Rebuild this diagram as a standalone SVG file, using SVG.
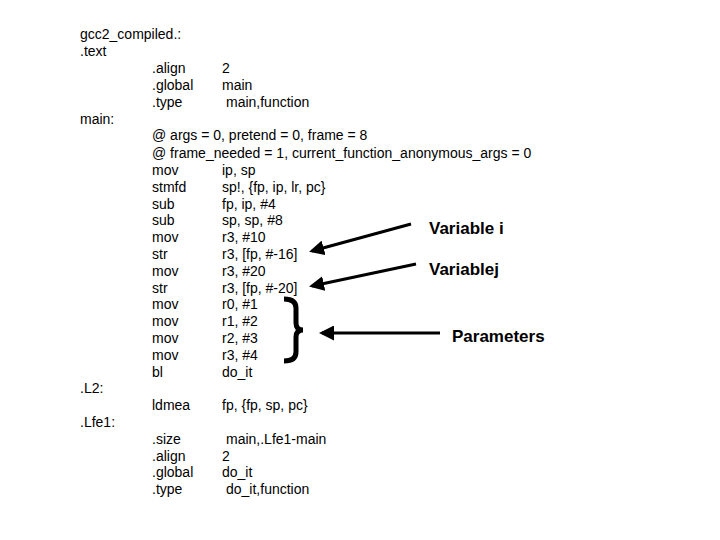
<svg xmlns="http://www.w3.org/2000/svg" width="720" height="540" viewBox="0 0 720 540">
<defs>
<style>
text{font-family:"Liberation Sans",Arial,sans-serif;font-size:14px;fill:#000}
.lbl{font-size:17px;font-weight:bold}
.ar{stroke:#000;stroke-width:3;fill:none}
</style>
<marker id="ah" markerWidth="5" markerHeight="5" refX="4" refY="2.5" orient="auto" markerUnits="strokeWidth"><path d="M0,0 L5,2.5 L0,5 z" fill="#000"/></marker>
</defs>
<rect width="720" height="540" fill="#fff"/>
<g id="code">
<text x="80" y="39">gcc2_compiled.:</text>
<text x="80" y="56">.text</text>
<text x="152" y="73">.align</text><text x="222" y="73">2</text>
<text x="152" y="90">.global</text><text x="222" y="90">main</text>
<text x="152" y="107">.type</text><text x="226" y="107">main,function</text>
<text x="80" y="124">main:</text>
<text x="152" y="140">@ args = 0, pretend = 0, frame = 8</text>
<text x="152" y="158">@ frame_needed = 1, current_function_anonymous_args = 0</text>
<text x="152" y="175">mov</text><text x="222" y="175">ip, sp</text>
<text x="152" y="192">stmfd</text><text x="222" y="192">sp!, {fp, ip, lr, pc}</text>
<text x="152" y="209">sub</text><text x="222" y="209">fp, ip, #4</text>
<text x="152" y="225">sub</text><text x="222" y="225">sp, sp, #8</text>
<text x="152" y="242">mov</text><text x="222" y="242">r3, #10</text>
<text x="152" y="259">str</text><text x="222" y="259">r3, [fp, #-16]</text>
<text x="152" y="276">mov</text><text x="222" y="276">r3, #20</text>
<text x="152" y="293">str</text><text x="222" y="293">r3, [fp, #-20]</text>
<text x="152" y="309">mov</text><text x="222" y="309">r0, #1</text>
<text x="152" y="326">mov</text><text x="222" y="326">r1, #2</text>
<text x="152" y="343">mov</text><text x="222" y="343">r2, #3</text>
<text x="152" y="360">mov</text><text x="222" y="360">r3, #4</text>
<text x="152" y="377">bl</text><text x="222" y="377">do_it</text>
<text x="80" y="393">.L2:</text>
<text x="152" y="410">ldmea</text><text x="222" y="410">fp, {fp, sp, pc}</text>
<text x="80" y="427">.Lfe1:</text>
<text x="152" y="444">.size</text><text x="226" y="444">main,.Lfe1-main</text>
<text x="152" y="461">.align</text><text x="222" y="461">2</text>
<text x="152" y="477">.global</text><text x="222" y="477">do_it</text>
<text x="152" y="494">.type</text><text x="226" y="494">do_it,function</text>
</g>
<g id="brace"><path d="M284,299 Q296,299 296,308 L296,323 Q296,330 303,330 Q296,330 296,337 L296,352 Q296,361 284,361" fill="none" stroke="#000" stroke-width="5"/></g>
<g id="labels">
<text class="lbl" x="429" y="234">Variable i</text>
<text class="lbl" x="429" y="275">Variablej</text>
<text class="lbl" x="452" y="342">Parameters</text>
</g>
<g id="connectors">
<line class="ar" x1="411" y1="224" x2="312" y2="251" marker-end="url(#ah)"/>
<line class="ar" x1="416" y1="264" x2="312" y2="286" marker-end="url(#ah)"/>
<line class="ar" x1="440" y1="333" x2="322" y2="333" marker-end="url(#ah)"/>
</g>
</svg>
